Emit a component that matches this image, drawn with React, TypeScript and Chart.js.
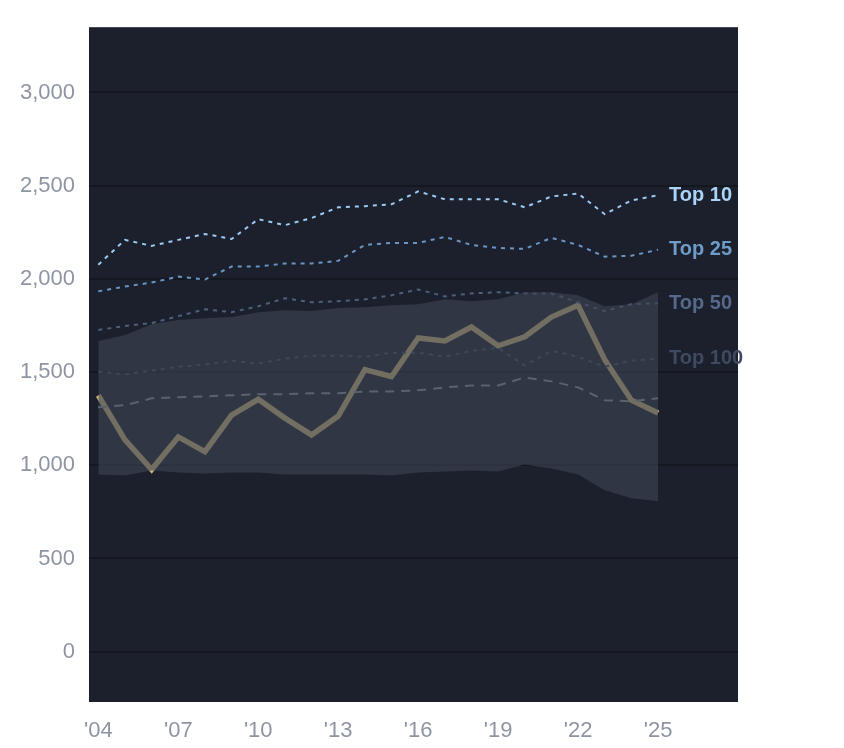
import React, { useEffect, useRef } from "react";
import { Chart, registerables } from "chart.js";
Chart.register(...registerables);

const years = [2004,2005,2006,2007,2008,2009,2010,2011,2012,2013,2014,2015,2016,2017,2018,2019,2020,2021,2022,2023,2024,2025];
const player = [1375,1136,977,1152,1073,1269,1354,1253,1163,1264,1513,1476,1683,1667,1742,1641,1689,1795,1858,1566,1349,1280];
const top10 = [2076,2209,2177,2209,2241,2214,2320,2288,2326,2384,2390,2400,2469,2427,2427,2427,2384,2442,2458,2347,2421,2448];
const top25 = [1933,1959,1980,2012,1996,2066,2066,2082,2082,2097,2182,2193,2193,2225,2182,2166,2161,2220,2182,2119,2124,2156];
const top50 = [1726,1747,1763,1800,1837,1821,1853,1896,1874,1880,1890,1912,1943,1906,1922,1928,1922,1922,1874,1827,1864,1869];
const top100 = [1503,1487,1508,1529,1540,1561,1545,1572,1588,1588,1582,1604,1604,1582,1614,1630,1535,1614,1582,1529,1561,1572];
const median = [1311,1322,1359,1365,1370,1375,1381,1381,1386,1386,1396,1396,1402,1418,1428,1428,1471,1450,1418,1349,1343,1359];
const bandHigh = [1667,1699,1757,1779,1789,1795,1821,1832,1827,1843,1848,1858,1864,1890,1880,1890,1928,1928,1912,1853,1864,1928];
const bandLow = [950,945,972,961,956,961,961,950,950,950,950,945,961,966,972,966,1004,982,950,866,823,807];
const tierLabels = ["Top 10","Top 25","Top 50","Top 100"];
const tierColors = ["#a9d3f7","#6e9cc8","#56698a","#3f4a60"];

const pts = (v: number[]) => v.map((y, i) => ({ x: years[i], y }));

export default function App() {
  const ref = useRef<HTMLCanvasElement>(null);
  useEffect(() => {
    document.body.style.margin = "0";
    const bg = {
      id: "bg",
      beforeDraw(c: any) {
        const { ctx, chartArea: a } = c;
        ctx.save();
        ctx.fillStyle = "#1c202d";
        ctx.fillRect(a.left, a.top, a.right - a.left, a.bottom - a.top);
        ctx.restore();
      },
      afterDraw(c: any) {
        const { ctx } = c;
        const xs = c.scales.x, ys = c.scales.y;
        const vals = [top10, top25, top50, top100];
        ctx.save();
        ctx.font = "bold 20px 'Liberation Sans', Arial, sans-serif";
        ctx.textBaseline = "middle";
        vals.forEach((v, i) => {
          ctx.fillStyle = tierColors[i];
          ctx.fillText(tierLabels[i], xs.getPixelForValue(2025) + 11, ys.getPixelForValue(v[v.length - 1]));
        });
        ctx.restore();
      },
    };
    const line = (data: number[], color: string, dash: number[], width = 2) => ({
      data: pts(data), borderColor: color, borderDash: dash, borderWidth: width,
      pointRadius: 0, fill: false, tension: 0,
    });
    const chart = new Chart(ref.current!, {
      type: "line",
      data: {
        datasets: [
          { data: pts(bandHigh), borderWidth: 0, pointRadius: 0, fill: "+1", backgroundColor: "rgba(62,67,82,0.62)" } as any,
          { data: pts(bandLow), borderWidth: 0, pointRadius: 0, fill: false },
          line(top10, "#9ccaf2", [4, 5]),
          line(top25, "#6a95c2", [4, 5]),
          line(top50, "#4c5f7d", [4, 5]),
          line(top100, "#414c62", [4, 5]),
          line(median, "#8c909a", [9, 7]),
          line(player, "#c9b479", [], 5.5),
        ],
      },
      options: {
        animation: false, responsive: false,
        layout: { padding: { top: 20, right: 106 } },
        plugins: { legend: { display: false }, tooltip: { enabled: false } },
        scales: {
          x: {
            type: "linear", min: 2003.65, max: 2028,
            afterBuildTicks: (s: any) => { s.ticks = [2004,2007,2010,2013,2016,2019,2022,2025].map(v => ({ value: v })); },
            afterFit: (s: any) => { s.height = 46; },
            grid: { display: false }, border: { display: false },
            ticks: { color: "#8e95a2", font: { size: 22, family: "'Liberation Sans', Arial" }, padding: 8,
              callback: (v: any) => "'" + String(v).slice(2) },
          },
          y: {
            min: -270, max: 3350,
            afterBuildTicks: (s: any) => { s.ticks = [0,500,1000,1500,2000,2500,3000].map(v => ({ value: v })); },
            afterFit: (s: any) => { s.width = 89; },
            grid: { color: "#141720", lineWidth: 2, drawTicks: false }, border: { display: false },
            ticks: { color: "#8e95a2", font: { size: 22, family: "'Liberation Sans', Arial" }, padding: 14 },
          },
        },
      },
      plugins: [bg],
    });
    return () => chart.destroy();
  }, []);
  return <canvas ref={ref} width={844} height={748} style={{ display: "block" }} />;
}
